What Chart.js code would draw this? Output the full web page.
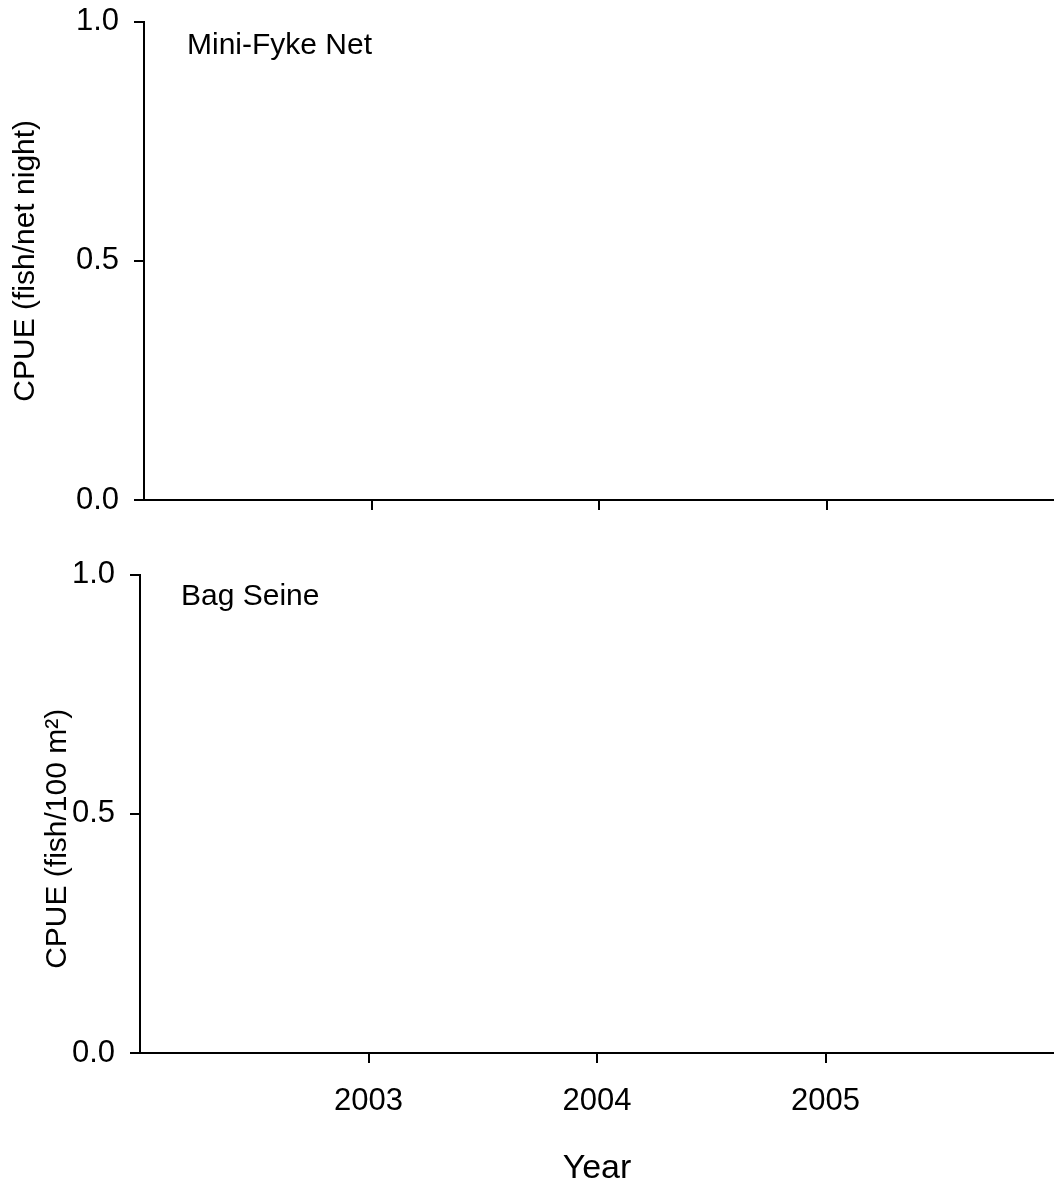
<!DOCTYPE html>
<html>
<head>
<meta charset="utf-8">
<title>CPUE by year</title>
<script src="https://cdn.jsdelivr.net/npm/chart.js@4.4.1/dist/chart.umd.min.js"></script>
<style>
  html, body { margin: 0; padding: 0; background: #fff; overflow: hidden; }
  #wrap { position: relative; width: 1054px; height: 1185px; overflow: hidden; }
  canvas { position: absolute; left: 0; }
  #topChart { top: -12px; }
  #bottomChart { top: 541px; }
</style>
</head>
<body>
<div id="wrap">
  <canvas id="topChart" width="1054" height="552"></canvas>
  <canvas id="bottomChart" width="1054" height="654"></canvas>
</div>
<script>
// data: both panels are empty (no catches plotted)
const years = [2003, 2004, 2005];
const yearRange = [2002, 2006];
const yTicks = [0.0, 0.5, 1.0];
const miniFykeCpue = [];
const bagSeineCpue = [];

const FONT = "'Liberation Sans', Arial, Helvetica, sans-serif";
const INK = "#000";

// small plugin to write the gear name inside the plot area
const panelLabel = {
  id: "panelLabel",
  afterDraw(chart, args, opts) {
    const { ctx, chartArea } = chart;
    ctx.save();
    ctx.font = `30px ${FONT}`;
    ctx.fillStyle = INK;
    ctx.textBaseline = "alphabetic";
    ctx.fillText(opts.text, chartArea.left + opts.dx, chartArea.top + opts.dy);
    ctx.restore();
  },
};

function buildChart(canvas, cfg) {
  const ctx = canvas.getContext("2d");
  return new Chart(ctx, {
    type: "scatter",
    data: {
      datasets: [
        {
          label: cfg.label,
          data: cfg.points,
          pointRadius: 4,
          borderColor: INK,
          backgroundColor: INK,
        },
      ],
    },
    plugins: [panelLabel],
    options: {
      responsive: false,
      animation: false,
      layout: { padding: 0 },
      plugins: {
        legend: { display: false },
        tooltip: { enabled: false },
        panelLabel: { text: cfg.label, dx: cfg.labelDx, dy: cfg.labelDy },
      },
      scales: {
        x: {
          type: "linear",
          min: yearRange[0],
          max: yearRange[1],
          afterBuildTicks: (scale) => {
            scale.ticks = years.map((v) => ({ value: v }));
          },
          afterFit: (scale) => {
            scale.height = cfg.xHeight;
          },
          border: { display: true, color: INK, width: 2 },
          grid: {
            drawOnChartArea: false,
            drawTicks: true,
            tickLength: 10,
            color: INK,
            lineWidth: 2,
          },
          ticks: {
            display: cfg.showYears,
            color: INK,
            padding: 20,
            font: { family: FONT, size: 31 },
            callback: (v) => String(v),
          },
          title: {
            display: cfg.showYears,
            text: "Year",
            color: INK,
            font: { family: FONT, size: 34 },
            padding: { top: 0, bottom: 6 },
          },
        },
        y: {
          min: 0,
          max: 1,
          afterBuildTicks: (scale) => {
            scale.ticks = yTicks.map((v) => ({ value: v }));
          },
          afterFit: (scale) => {
            scale.width = cfg.yWidth;
          },
          border: { display: true, color: INK, width: 2 },
          grid: {
            drawOnChartArea: false,
            drawTicks: true,
            tickLength: 10,
            color: INK,
            lineWidth: 2,
          },
          ticks: {
            color: INK,
            padding: 15,
            font: { family: FONT, size: 31 },
            callback: (v) => Number(v).toFixed(1),
          },
          title: {
            display: true,
            text: cfg.yTitle,
            color: INK,
            font: { family: FONT, size: 30 },
            padding: { top: cfg.yTitlePad, bottom: 0 },
          },
        },
      },
    },
  });
}

buildChart(document.getElementById("topChart"), {
  label: "Mini-Fyke Net",
  points: miniFykeCpue,
  xHeight: 40,
  yWidth: 144,
  showYears: false,
  yTitle: "CPUE (fish/net night)",
  yTitlePad: 8,
  labelDx: 43,
  labelDy: 32,
});

buildChart(document.getElementById("bottomChart"), {
  label: "Bag Seine",
  points: bagSeineCpue,
  xHeight: 142,
  yWidth: 140,
  showYears: true,
  // trailing spaces nudge the centred title down, as in the source figure
  yTitle: "CPUE (fish/100 m\u00B2)      ",
  yTitlePad: 40,
  labelDx: 41,
  labelDy: 30,
});
</script>
</body>
</html>
